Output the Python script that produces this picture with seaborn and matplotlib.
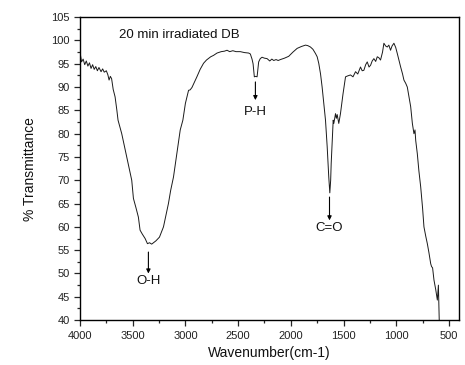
import matplotlib
matplotlib.use("Agg")
import matplotlib.pyplot as plt
import seaborn as sns
import pandas as pd
from matplotlib.ticker import MultipleLocator

# spectrum
wavenumber = [4000, 3985, 3970, 3955, 3940, 3925, 3910, 3895, 3880, 3865, 3850, 3835, 3820, 3800,
              3785, 3770, 3750, 3735, 3724, 3712, 3700, 3685, 3667, 3650, 3639, 3620, 3604, 3580,
              3556, 3530, 3509, 3493, 3470, 3446, 3430, 3410, 3382, 3360, 3340, 3320, 3303, 3280,
              3246, 3225, 3208, 3185, 3161, 3140, 3113, 3081, 3049, 3024, 3000, 2970, 2955, 2938,
              2915, 2891, 2860, 2828, 2800, 2760, 2733, 2700, 2660, 2630, 2605, 2580, 2550, 2520,
              2479, 2440, 2400, 2384, 2368, 2358, 2346, 2333, 2320, 2312, 2305, 2290, 2273, 2250,
              2225, 2200, 2180, 2162, 2140, 2120, 2099, 2060, 2020, 1980, 1940, 1900, 1861, 1840,
              1814, 1790, 1766, 1750, 1735, 1718, 1703, 1681, 1671, 1655, 1640, 1630, 1622, 1617,
              1598, 1592, 1576, 1568, 1560, 1545, 1529, 1505, 1481, 1460, 1434, 1410, 1386, 1365,
              1339, 1323, 1307, 1290, 1275, 1258, 1243, 1228, 1212, 1195, 1180, 1165, 1149, 1130,
              1117, 1100, 1085, 1070, 1054, 1040, 1022, 1005, 990, 975, 958, 940, 927, 910,
              895, 880, 863, 847, 832, 822, 815, 800, 785, 768, 750, 737, 720, 705,
              690, 673, 665, 655, 642, 625, 610, 600, 593, 590]
transmittance = [97.5, 95.4, 96.0, 94.8, 95.6, 94.5, 95.2, 94.0, 94.8, 93.8, 94.4, 93.5, 94.2, 93.3,
                 93.9, 93.2, 93.5, 92.6, 91.5, 92.3, 91.8, 89.5, 87.9, 85.0, 82.9, 81.3, 80.0, 77.5,
                 75.0, 72.3, 70.0, 66.1, 64.2, 62.1, 59.3, 58.5, 57.5, 56.4, 56.6, 56.3, 56.6, 57.0,
                 57.8, 59.0, 60.0, 62.5, 65.0, 67.8, 70.7, 75.7, 80.8, 82.9, 86.5, 89.3, 89.4, 89.9,
                 91.0, 92.2, 93.8, 95.1, 95.8, 96.5, 96.8, 97.3, 97.6, 97.7, 97.9, 97.6, 97.8, 97.6,
                 97.6, 97.4, 97.3, 97.1, 96.0, 95.0, 92.2, 92.3, 92.2, 93.8, 95.4, 96.1, 96.4, 96.2,
                 96.1, 95.6, 96.0, 95.7, 95.9, 95.7, 95.9, 96.2, 96.6, 97.5, 98.3, 98.7, 99.0, 98.9,
                 98.6, 98.1, 97.2, 96.5, 95.1, 92.8, 90.0, 85.0, 82.9, 77.2, 70.7, 67.3, 70.0, 73.6,
                 82.9, 82.2, 84.3, 83.3, 84.1, 82.2, 84.3, 88.5, 92.2, 92.4, 92.6, 92.2, 93.3, 92.8,
                 94.3, 93.5, 93.6, 94.8, 95.4, 94.3, 94.7, 95.6, 96.1, 95.5, 96.5, 96.3, 95.8, 97.5,
                 99.4, 98.8, 98.6, 99.0, 97.9, 98.8, 99.4, 98.5, 97.2, 95.8, 94.3, 92.8, 91.5, 90.8,
                 90.0, 88.0, 85.8, 82.2, 80.0, 80.8, 78.5, 75.7, 72.0, 68.6, 64.0, 60.0, 58.0, 56.4,
                 54.5, 52.1, 51.5, 51.2, 48.6, 46.5, 44.3, 47.5, 41.0, 38.0]

peak_labels = ["O-H", "P-H", "C=O"]
peak_pos = [3351, 2336, 1633]
arrow_top = [54.6, 91.1, 66.4]
arrow_tip = [50.0, 87.2, 61.4]
label_y = [48.3, 84.7, 59.7]

df = pd.DataFrame({"Wavenumber": wavenumber, "T": transmittance})

sns.set_style("ticks")
plt.rcParams["font.family"] = ["Liberation Sans", "DejaVu Sans"]

fig = plt.figure(figsize=(4.65, 3.65), dpi=100)
ax = fig.add_axes([0.172, 0.123, 0.815, 0.830])
sns.lineplot(data=df, x="Wavenumber", y="T", sort=False, color="#1a1a1a", lw=0.7, ax=ax)

for lab, xp, y0, y1, yl in zip(peak_labels, peak_pos, arrow_top, arrow_tip, label_y):
    ax.annotate("", xy=(xp, y1), xytext=(xp, y0),
                arrowprops=dict(arrowstyle="-|>", color="black", lw=0.8,
                                mutation_scale=6, shrinkA=0, shrinkB=0))
    ax.text(xp, yl, lab, ha="center", va="center", fontsize=9.5, color="#111111")

ax.text(3630, 101.1, "20 min irradiated DB", ha="left", va="center", fontsize=9.5, color="#111111")

ax.set_xlim(4000, 405)
ax.set_ylim(40, 105)
ax.xaxis.set_major_locator(MultipleLocator(500))
ax.xaxis.set_minor_locator(MultipleLocator(250))
ax.yaxis.set_major_locator(MultipleLocator(5))
ax.yaxis.set_minor_locator(MultipleLocator(2.5))
ax.tick_params(axis="both", which="major", labelsize=8, length=4, width=0.9,
               direction="out", labelcolor="#222222")
ax.tick_params(axis="both", which="minor", length=2.5, width=0.9, direction="out")
for s in ax.spines.values():
    s.set_linewidth(1.0)
    s.set_color("black")

ax.set_xlabel("Wavenumber(cm-1)", fontsize=10, color="#111111")
ax.set_ylabel("% Transmittance", fontsize=10, labelpad=10, color="#111111")

fig.savefig("out.png", dpi=100)
